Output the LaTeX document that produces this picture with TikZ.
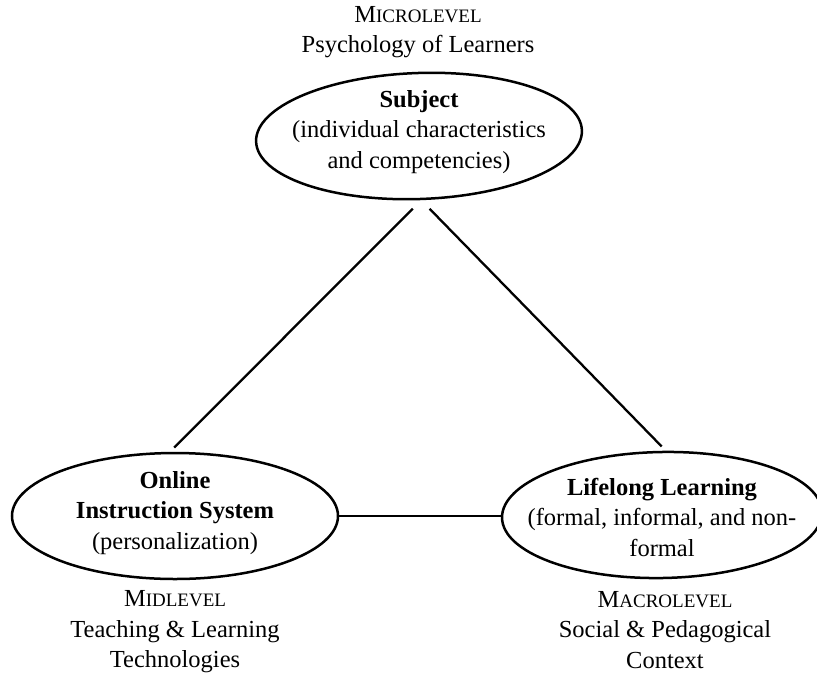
\documentclass[tikz,border=0pt]{standalone}
\usepackage{fontspec}
\setmainfont{Liberation Serif}
\usetikzlibrary{shapes.geometric}

\newcommand{\levelsc}[2]{#1{\fontsize{19}{30.5}\selectfont #2}}

\begin{document}
\begin{tikzpicture}[
  x=1pt, y=-1pt,
  oval/.style={ellipse, draw, line width=2.5pt, minimum width=326pt, minimum height=126pt, inner sep=0pt},
  txt/.style={align=center, font=\fontsize{24.5}{30.5}\selectfont},
  link/.style={line width=2.3pt, shorten <=12pt, shorten >=6pt}
]
\useasboundingbox (0,0) rectangle (817,673);
\node[oval, rotate=2] (subj) at (419,136) {};
\node[oval] (online) at (175,516) {};
\node[oval, rotate=1, minimum width=320pt] (lifelong) at (662,515) {};
\node[txt] (subjtext) at (419,132) {\textbf{Subject}\\(individual characteristics\\and competencies)};
\node[txt] (onlinetext) at (175,513) {\textbf{Online}\\\textbf{Instruction System}\\(personalization)};
\node[txt] (lifelongtext) at (662,517) {\textbf{Lifelong Learning}\\(formal, informal, and non-\\formal};
\node[txt] (micro) at (418,32) {\levelsc{M}{ICROLEVEL}\\Psychology of Learners};
\node[txt] (mid) at (175,632) {\levelsc{M}{IDLEVEL}\\Teaching \& Learning\\Technologies};
\node[txt] (macro) at (665,630) {\levelsc{M}{ACROLEVEL}\\Social \& Pedagogical\\Context};
\draw[link] (subj.south) -- ([xshift=-5pt]online.north);
\draw[link] (subj.south) -- ([xshift=5pt]lifelong.north);
\draw[line width=2.5pt] (online.east) -- (online.east -| lifelong.west);
\end{tikzpicture}
\end{document}
